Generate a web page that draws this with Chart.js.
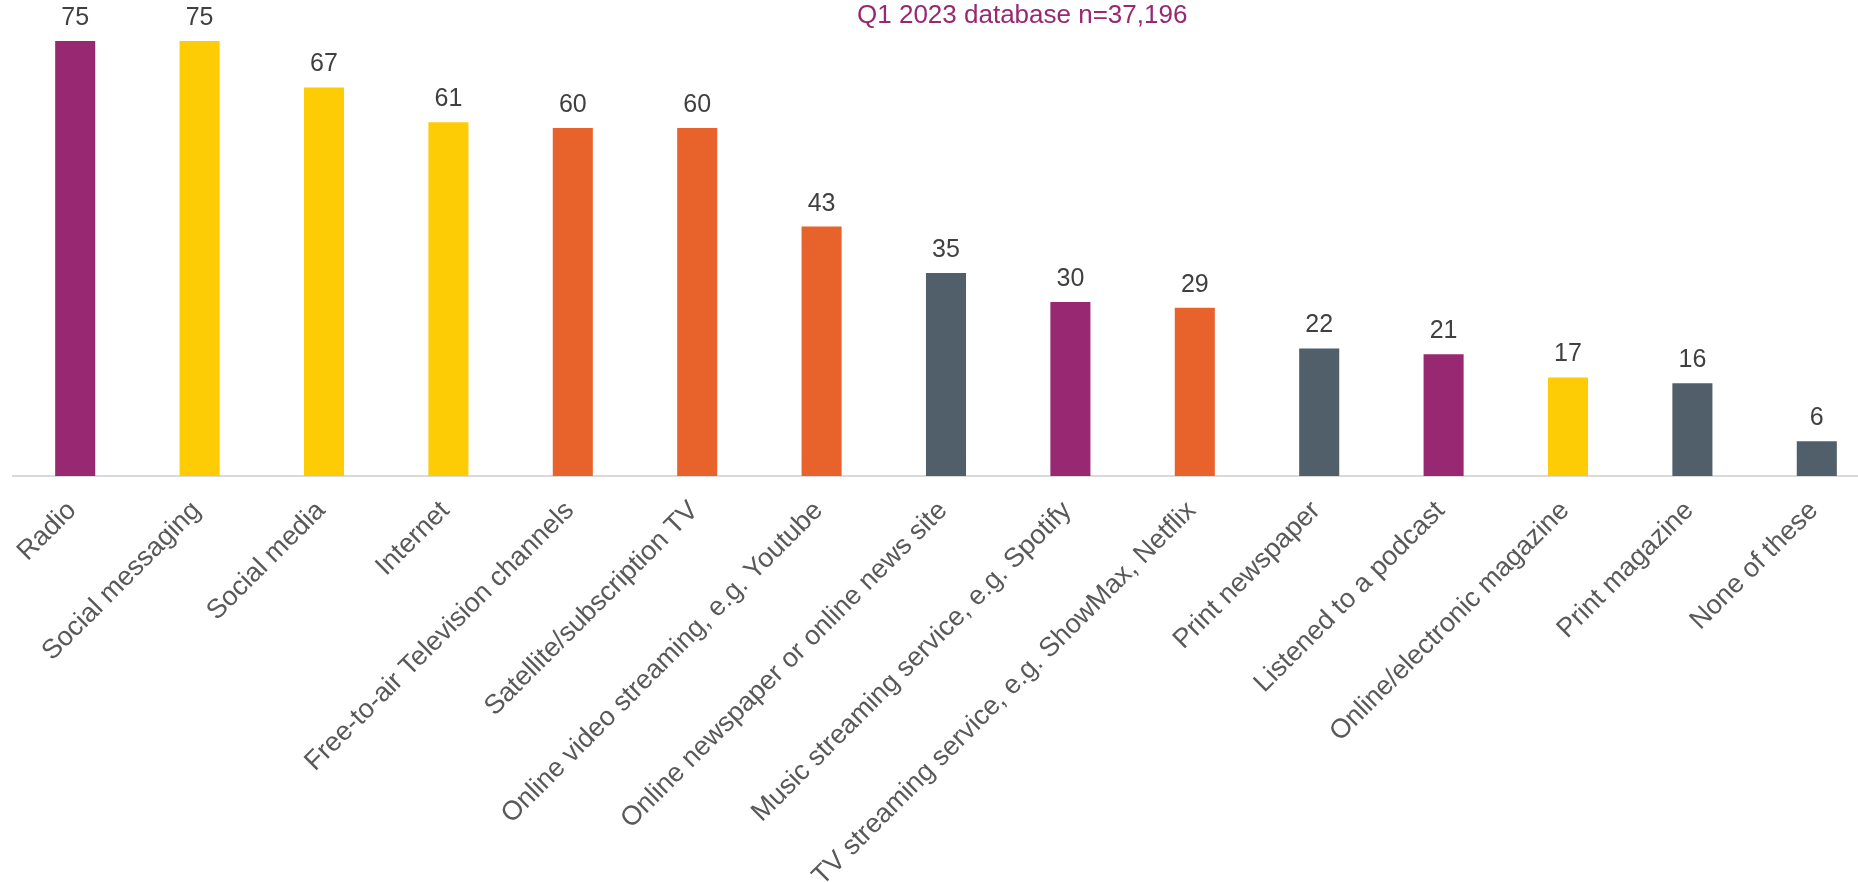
<!DOCTYPE html>
<html>
<head>
<meta charset="utf-8">
<title>Media consumed in past 7 days</title>
<script src="https://cdn.jsdelivr.net/npm/chart.js@4/dist/chart.umd.min.js"></script>
<style>
    html, body { margin: 0; padding: 0; background: #ffffff; }
    #wrap { width: 1858px; height: 882px; position: relative; }
</style>
</head>
<body>
<div id="wrap"><canvas id="barChart"></canvas></div>
<script>
const categories = [
    "Radio",
    "Social messaging",
    "Social media",
    "Internet",
    "Free-to-air Television channels",
    "Satellite/subscription TV",
    "Online video streaming, e.g. Youtube",
    "Online newspaper or online news site",
    "Music streaming service, e.g. Spotify",
    "TV streaming service, e.g. ShowMax, Netflix",
    "Print newspaper",
    "Listened to a podcast",
    "Online/electronic magazine",
    "Print magazine",
    "None of these"
];
const values = [75, 75, 67, 61, 60, 60, 43, 35, 30, 29, 22, 21, 17, 16, 6];
// media group of each category, used for the bar colour
const groups = ["audio", "social", "social", "social", "tv", "tv", "tv", "print", "audio", "tv", "print", "audio", "social", "print", "print"];
const subtitle = "Q1 2023 database n=37,196";

const groupColors = {
    audio: "#982872",
    social: "#FECC05",
    tv: "#E8632B",
    print: "#505F69"
};

const FONT = "'Liberation Sans', Arial, sans-serif";

// let the category axis run a little past the right edge of the canvas
const overflowPlugin = {
    id: "xOverflow",
    afterLayout(chart) {
        const x = chart.scales.x;
        x.right += 21;
        x.width += 21;
        x.configure();
    }
};

// value labels above the bars + the database caption
const labelPlugin = {
    id: "valueLabels",
    afterDatasetsDraw(chart) {
        const ctx = chart.ctx;
        const meta = chart.getDatasetMeta(0);
        ctx.save();
        ctx.font = "25px " + FONT;
        ctx.fillStyle = "#404040";
        ctx.textAlign = "center";
        ctx.textBaseline = "alphabetic";
        meta.data.forEach((bar, i) => {
            ctx.fillText(String(values[i]), bar.x, bar.y - 16);
        });

        const area = chart.chartArea;
        ctx.font = "26px " + FONT;
        ctx.fillStyle = groupColors.audio;
        ctx.textBaseline = "middle";
        ctx.fillText(subtitle, area.left + area.width * 0.547, 16);
        ctx.restore();
    }
};

const ctx = document.getElementById("barChart").getContext("2d");
const barChart = new Chart(ctx, {
    type: "bar",
    data: {
        labels: categories,
        datasets: [{
            data: values,
            backgroundColor: groups.map(g => groupColors[g]),
            barPercentage: 0.322,
            categoryPercentage: 1.0
        }]
    },
    options: {
        responsive: true,
        maintainAspectRatio: false,
        animation: false,
        layout: {
            padding: { left: 13, right: 0, top: 12, bottom: 0 }
        },
        plugins: {
            legend: { display: false },
            title: { display: false },
            tooltip: { enabled: false }
        },
        scales: {
            x: {
                grid: { display: false, drawTicks: false },
                border: { display: true, color: "#D9D9D9", width: 2 },
                ticks: {
                    color: "#595959",
                    font: { family: FONT, size: 27 },
                    minRotation: 45,
                    maxRotation: 45,
                    autoSkip: false,
                    padding: 19,
                    labelOffset: -3
                },
                afterFit(scale) {
                    scale.height = 406;
                }
            },
            y: {
                display: false,
                min: 0,
                max: 80
            }
        }
    },
    plugins: [overflowPlugin, labelPlugin]
});
</script>
</body>
</html>
